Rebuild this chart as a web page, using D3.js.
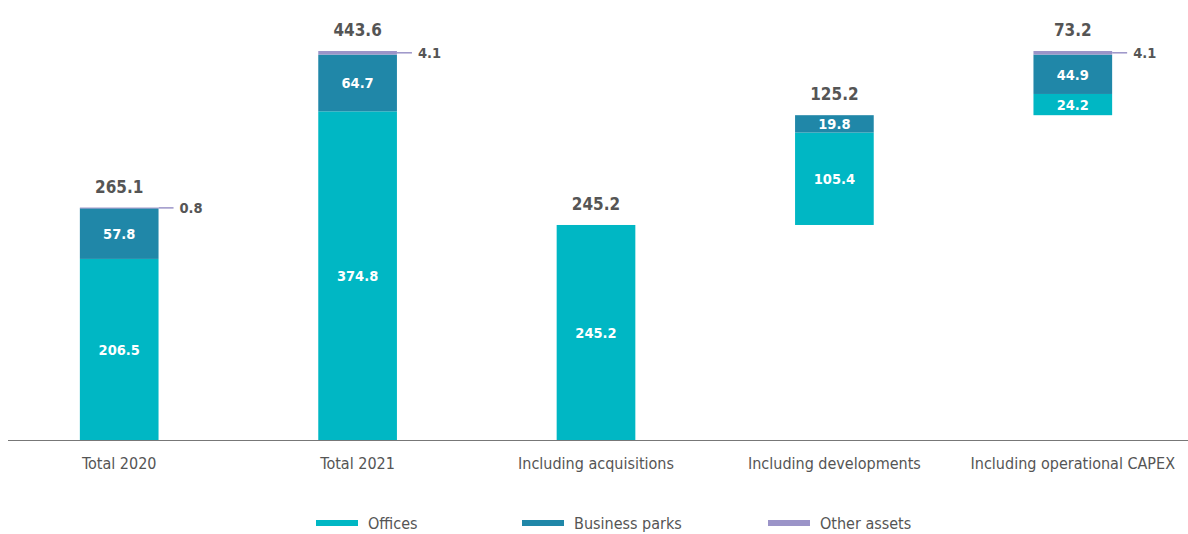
<!DOCTYPE html>
<html lang="en">
<head>
<meta charset="UTF-8">
<title>Investments</title>
<script src="https://d3js.org/d3.v7.min.js"></script>
<style>
    body { margin: 0; background: #fff; }
    svg { font-family: "DejaVu Sans Condensed", "Liberation Sans Narrow", sans-serif; }
    .total { font-size: 17px; font-weight: bold; fill: #555; }
    .inner { font-size: 14.5px; font-weight: bold; fill: #fff; }
    .side { font-size: 14.5px; font-weight: bold; fill: #555; }
    .cat { font-size: 16px; fill: #555; }
    .legend text { font-size: 16px; fill: #555; }
</style>
</head>
<body>
<svg id="main" width="1188" height="534"></svg>
<script>
    // values
    let categories = ['Total 2020', 'Total 2021', 'Including acquisitions',
        'Including developments', 'Including operational CAPEX'];
    let bases = [0, 0, 0, 245.2, 370.4];
    let offices = [206.5, 374.8, 245.2, 105.4, 24.2];
    let businessParks = [57.8, 64.7, 0, 19.8, 44.9];
    let otherAssets = [0.8, 4.1, 0, 0, 4.1];
    let totals = [265.1, 443.6, 245.2, 125.2, 73.2];
    let seriesNames = ['Offices', 'Business parks', 'Other assets'];
    let seriesColors = ['#00b7c4', '#2087a8', '#9b94c8'];

    let svg = d3.select('#main');
    let baseY = 440;

    let x = d3.scaleBand().domain(categories).range([0, 1192])
        .paddingInner(0.67).paddingOuter(0.335);
    let y = d3.scaleLinear().domain([0, 443.6]).range([baseY, 51]);

    let series = [offices, businessParks, otherAssets];

    // build stacked segments on top of each base
    let segs = [];
    categories.forEach(function (c, i) {
        let start = bases[i];
        series.forEach(function (s, k) {
            if (s[i] > 0) {
                segs.push({cat: c, k: k, y0: start, y1: start + s[i], v: s[i]});
                start += s[i];
            }
        });
    });

    svg.selectAll('rect.seg')
        .data(segs)
        .enter()
        .append('rect')
        .attr('class', 'seg')
        .attr('x', d => x(d.cat))
        .attr('width', x.bandwidth())
        .attr('y', d => y(d.y1))
        .attr('height', d => Math.max(y(d.y0) - y(d.y1), 1))
        .style('fill', d => seriesColors[d.k]);

    // white labels inside the bigger segments
    svg.selectAll('text.inner')
        .data(segs.filter(d => d.k < 2))
        .enter()
        .append('text')
        .attr('class', 'inner')
        .attr('x', d => x(d.cat) + x.bandwidth() / 2)
        .attr('y', d => (y(d.y0) + y(d.y1)) / 2)
        .attr('dy', '0.36em')
        .attr('text-anchor', 'middle')
        .text(d => d.v.toFixed(1));

    // other assets: leader line + side label
    let small = segs.filter(d => d.k === 2);
    svg.selectAll('line.lead')
        .data(small)
        .enter()
        .append('line')
        .attr('x1', d => x(d.cat) + x.bandwidth())
        .attr('x2', d => x(d.cat) + x.bandwidth() + 15)
        .attr('y1', d => (y(d.y0) + y(d.y1)) / 2)
        .attr('y2', d => (y(d.y0) + y(d.y1)) / 2)
        .style('stroke', seriesColors[2])
        .style('stroke-width', 1.5);
    svg.selectAll('text.side')
        .data(small)
        .enter()
        .append('text')
        .attr('class', 'side')
        .attr('x', d => x(d.cat) + x.bandwidth() + 21)
        .attr('y', d => (y(d.y0) + y(d.y1)) / 2)
        .attr('dy', '0.36em')
        .text(d => d.v.toFixed(1));

    // totals above each bar
    svg.selectAll('text.total')
        .data(categories)
        .enter()
        .append('text')
        .attr('class', 'total')
        .attr('x', d => x(d) + x.bandwidth() / 2)
        .attr('y', (d, i) => y(bases[i] + totals[i]) - 21)
        .attr('dy', '0.36em')
        .attr('text-anchor', 'middle')
        .text((d, i) => totals[i].toFixed(1));

    // baseline and category labels
    svg.append('line')
        .attr('x1', 8).attr('x2', 1188)
        .attr('y1', baseY + 0.5).attr('y2', baseY + 0.5)
        .style('stroke', '#777').style('stroke-width', 1.2);
    svg.selectAll('text.cat')
        .data(categories)
        .enter()
        .append('text')
        .attr('class', 'cat')
        .attr('x', d => x(d) + x.bandwidth() / 2)
        .attr('y', 463)
        .attr('dy', '0.36em')
        .attr('text-anchor', 'middle')
        .text(d => d);

    // legend
    let legendX = [316, 522, 768];
    let lg = svg.append('g').attr('class', 'legend')
        .selectAll('g')
        .data(seriesNames)
        .enter()
        .append('g')
        .attr('transform', (d, i) => 'translate(' + legendX[i] + ',523)');
    lg.append('rect')
        .attr('x', 0).attr('y', -3)
        .attr('width', 42).attr('height', 6)
        .style('fill', (d, i) => seriesColors[i]);
    lg.append('text')
        .attr('x', 52)
        .attr('dy', '0.36em')
        .text(d => d);
</script>
</body>
</html>
